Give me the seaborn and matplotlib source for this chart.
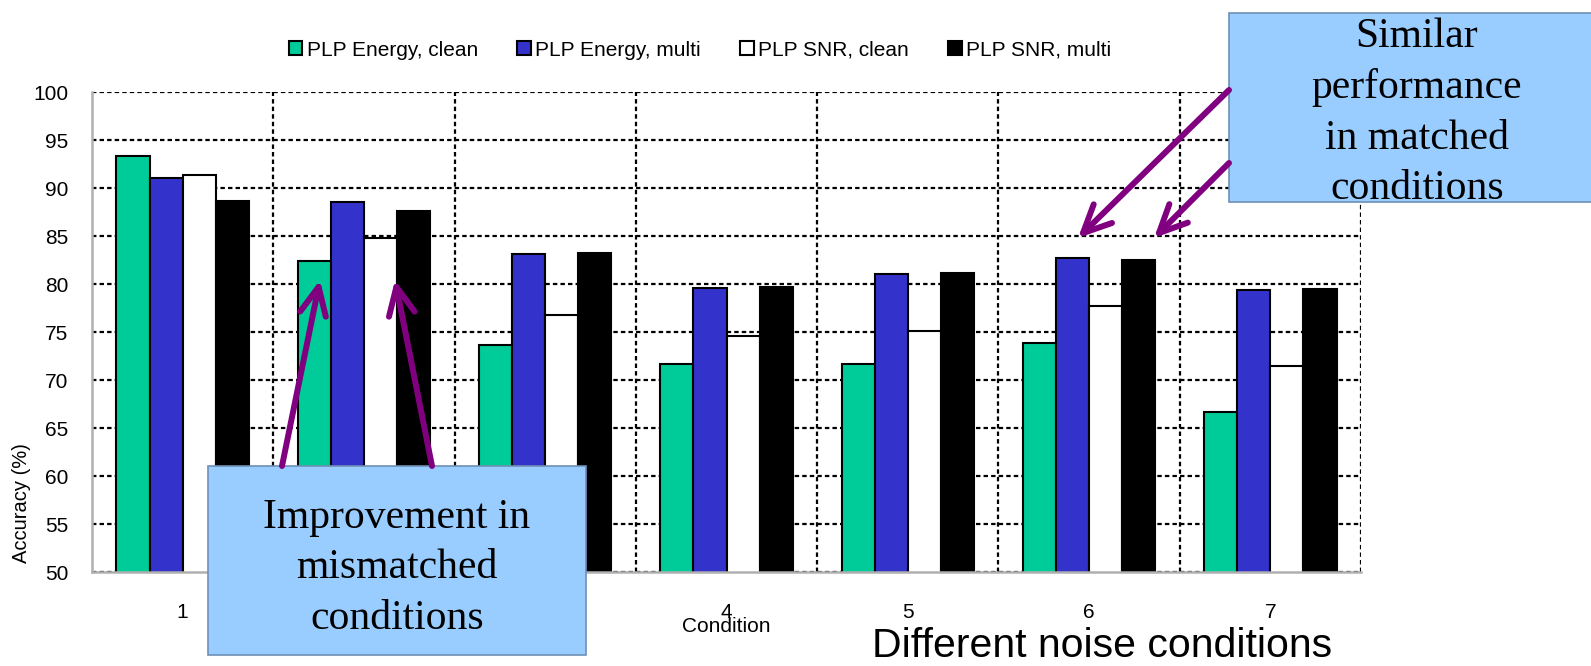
import numpy as np
import pandas as pd
import seaborn as sns
import matplotlib.pyplot as plt
from matplotlib.patches import Rectangle, FancyArrowPatch

# values
conditions = ['1', '2', '3', '4', '5', '6', '7']
series_names = ['PLP Energy, clean', 'PLP Energy, multi', 'PLP SNR, clean', 'PLP SNR, multi']
plp_energy_clean = [93.3, 82.4, 73.65, 71.7, 71.7, 73.85, 66.7]
plp_energy_multi = [91.0, 88.5, 83.1, 79.55, 81.05, 82.75, 79.4]
plp_snr_clean = [91.4, 84.8, 76.8, 74.6, 75.1, 77.7, 71.5]
plp_snr_multi = [88.6, 87.6, 83.2, 79.65, 81.15, 82.5, 79.45]
colors = ['#00CC99', '#3333CC', '#FFFFFF', '#000000']

sns.set_style("white")
plt.rcParams['font.family'] = ['Liberation Sans', 'DejaVu Sans']
plt.rcParams['text.color'] = 'black'
plt.rcParams['xtick.color'] = 'black'
plt.rcParams['ytick.color'] = 'black'

df = pd.DataFrame({
    'Condition': conditions * 4,
    'Accuracy': plp_energy_clean + plp_energy_multi + plp_snr_clean + plp_snr_multi,
    'Series': np.repeat(series_names, len(conditions)),
})

W, H = 1591, 666
fig = plt.figure(figsize=(W / 100, H / 100), dpi=100)
ax = fig.add_axes([92 / W, 1 - 572 / H, (1361 - 92) / W, (572 - 92) / H])

sns.barplot(data=df, x='Condition', y='Accuracy', hue='Series', order=conditions,
            hue_order=series_names, palette=colors, saturation=1, width=0.73,
            edgecolor='black', linewidth=1.5, errorbar=None, ax=ax)

ax.set_ylim(50, 100)
ax.set_xlim(-0.5, 6.5)
ax.set_yticks(np.arange(50, 101, 5))
ax.set_xticks(np.arange(0.5, 7, 1), minor=True)
ax.set_axisbelow(True)
ax.grid(axis='y', which='major', color='black', linestyle=(0, (2.0, 1.4)), linewidth=1.6)
ax.grid(axis='x', which='minor', color='black', linestyle=(0, (2.0, 1.4)), linewidth=1.6)
ax.grid(axis='x', which='major', visible=False)
for s in ['top', 'right']:
    ax.spines[s].set_visible(False)
for s in ['left', 'bottom']:
    ax.spines[s].set_color('#B0B0B0')
    ax.spines[s].set_linewidth(1.8)
ax.tick_params(axis='y', length=0, pad=17, labelsize=15)
ax.tick_params(axis='x', which='both', length=0, pad=22, labelsize=15)
ax.set_xlabel('')
ax.set_ylabel('')

handles, labels = ax.get_legend_handles_labels()
ax.get_legend().remove()
fig.legend(handles, labels, loc='center', bbox_to_anchor=(700 / W, 1 - 50 / H), ncol=4,
           frameon=False, fontsize=15, handlelength=0.65, handleheight=0.65,
           handletextpad=0.2, columnspacing=1.9)

fig.text(22 / W, 1 - 503 / H, 'Accuracy (%)', rotation=90, ha='center', va='center', fontsize=14.5)
fig.text(726 / W, 1 - 626 / H, 'Condition', ha='center', va='center', fontsize=15)
fig.text(1102 / W, 1 - 646 / H, 'Different noise conditions', ha='center', va='center', fontsize=29.5)


def fx(x, y):
    return (x / W, 1 - y / H)


# callout boxes
serif = ['Liberation Serif', 'DejaVu Serif']
fig.add_artist(Rectangle(fx(208, 655), (586 - 208) / W, (655 - 466) / H, transform=fig.transFigure,
                         facecolor='#99CCFF', edgecolor='#6F8FB5', linewidth=1.2, zorder=5))
fig.text(397 / W, 1 - 568 / H, 'Improvement in\nmismatched\nconditions', ha='center', va='center',
         fontsize=30, family=serif, linespacing=1.4, zorder=6)
fig.add_artist(Rectangle(fx(1229, 202), (1605 - 1229) / W, (202 - 13) / H, transform=fig.transFigure,
                         facecolor='#99CCFF', edgecolor='#6F8FB5', linewidth=1.2, zorder=5))
fig.text(1417 / W, 1 - 113 / H, 'Similar\nperformance\nin matched\nconditions', ha='center', va='center',
         fontsize=30, family=serif, linespacing=1.4, zorder=6)

# purple arrows
arrows = [((282, 466), (320, 280)), ((432, 466), (395, 280)),
          ((1229, 90), (1078, 238)), ((1229, 163), (1154, 238))]
for tail, tip in arrows:
    fig.add_artist(FancyArrowPatch(fx(*tail), fx(*tip), transform=fig.transFigure,
                                   arrowstyle='->,head_length=1.0,head_width=0.47', mutation_scale=20,
                                   color='#800080', linewidth=4.3, capstyle='round',
                                   joinstyle='round', shrinkA=0, shrinkB=0, zorder=7))

fig.savefig('out.png', dpi=100)
